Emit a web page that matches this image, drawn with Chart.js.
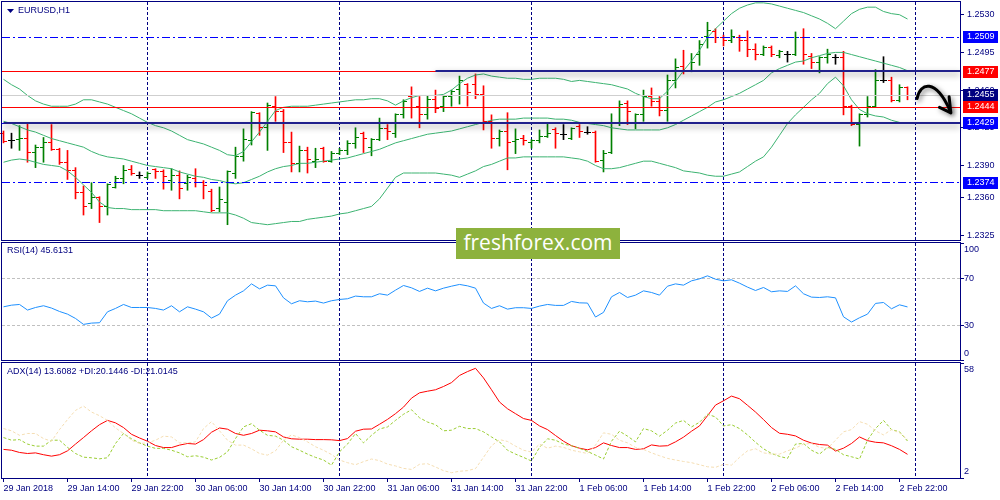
<!DOCTYPE html>
<html>
<head>
<meta charset="utf-8">
<script src="https://cdn.jsdelivr.net/npm/chart.js@4.4.1/dist/chart.umd.min.js"></script>
<style>
  html, body { margin: 0; padding: 0; background: #fff; }
  #wrap { position: relative; width: 1000px; height: 500px; overflow: hidden; }
  #wrap canvas { position: absolute; left: 0; }
  #logo { position: absolute; left: 456px; top: 228px; width: 164px; height: 31px; background: #8db23d;
          color: #fff; font: 21px "Open Sans", sans-serif; line-height: 29px; text-align: center; }
</style>
</head>
<body>
<div id="wrap">
  <canvas id="main" width="1000" height="242" style="top:0"></canvas>
  <canvas id="rsi" width="1000" height="121" style="top:241px"></canvas>
  <canvas id="adx" width="1000" height="139" style="top:361px"></canvas>
  <div id="logo">freshforex.com</div>
</div>
<script>
// EURUSD H1, 29 Jan 06:00 .. 2 Feb 23:00 (bar index 0..113)
var opens = [1.2420,1.2413,1.2414,1.2415,1.2402,1.2407,1.2411,1.2405,1.2393,1.2385,
  1.2365,1.2355,1.2360,1.2352,1.2370,1.2378,1.2386,1.2381,1.2379,1.2386,
  1.2384,1.2376,1.2381,1.2373,1.2378,1.2374,1.2366,1.2350,1.2356,1.2383,
  1.2398,1.2413,1.2438,1.2425,1.2445,1.2440,1.2411,1.2392,1.2404,1.2394,
  1.2406,1.2394,1.2401,1.2404,1.2410,1.2420,1.2407,1.2414,1.2424,1.2420,
  1.2437,1.2454,1.2445,1.2437,1.2451,1.2445,1.2454,1.2461,1.2465,1.2465,
  1.2456,1.2431,1.2415,1.2422,1.2412,1.2415,1.2411,1.2413,1.2417,1.2423,
  1.2419,1.2415,1.2426,1.2421,1.2421,1.2395,1.2402,1.2429,1.2448,1.2429,
  1.2437,1.2454,1.2449,1.2441,1.2469,1.2482,1.2478,1.2493,1.2510,1.2514,
  1.2509,1.2506,1.2509,1.2506,1.2498,1.2493,1.2500,1.2492,1.2493,1.2493,
  1.2509,1.2491,1.2486,1.2490,1.2490,1.2490,1.2445,1.2428,1.2437,1.2445,
  1.2469,1.2469,1.2450,1.2462];
var highs = [1.2422,1.2420,1.2427,1.2429,1.2409,1.2416,1.2428,1.2406,1.2404,1.2388,
  1.2371,1.2374,1.2361,1.2373,1.2380,1.2390,1.2390,1.2384,1.2384,1.2387,
  1.2386,1.2387,1.2385,1.2381,1.2387,1.2376,1.2368,1.2370,1.2385,1.2407,
  1.2424,1.2440,1.2439,1.2448,1.2454,1.2442,1.2421,1.2408,1.2407,1.2406,
  1.2407,1.2403,1.2406,1.2413,1.2425,1.2421,1.2415,1.2434,1.2428,1.2438,
  1.2451,1.2463,1.2454,1.2455,1.2460,1.2455,1.2460,1.2473,1.2466,1.2475,
  1.2464,1.2437,1.2423,1.2439,1.2424,1.2418,1.2414,1.2423,1.2429,1.2425,
  1.2428,1.2425,1.2428,1.2426,1.2422,1.2404,1.2438,1.2450,1.2450,1.2438,
  1.2460,1.2462,1.2454,1.2474,1.2489,1.2497,1.2494,1.2506,1.2523,1.2517,
  1.2511,1.2516,1.2511,1.2515,1.2503,1.2501,1.2501,1.2497,1.2496,1.2514,
  1.2517,1.2494,1.2491,1.2498,1.2493,1.2496,1.2446,1.2438,1.2454,1.2479,
  1.2491,1.2472,1.2465,1.2463];
var lows = [1.2411,1.2406,1.2404,1.2393,1.2388,1.2393,1.2404,1.2391,1.2377,1.2359,
  1.2344,1.2350,1.2337,1.2344,1.2369,1.2373,1.2381,1.2378,1.2378,1.2378,
  1.2368,1.2367,1.2359,1.2367,1.2370,1.2359,1.2347,1.2347,1.2335,1.2378,
  1.2394,1.2409,1.2418,1.2404,1.2431,1.2402,1.2384,1.2384,1.2383,1.2388,
  1.2393,1.2393,1.2400,1.2400,1.2406,1.2402,1.2399,1.2413,1.2414,1.2416,
  1.2434,1.2434,1.2425,1.2433,1.2439,1.2440,1.2445,1.2447,1.2445,1.2452,
  1.2423,1.2406,1.2408,1.2386,1.2401,1.2409,1.2406,1.2411,1.2416,1.2406,
  1.2414,1.2414,1.2416,1.2419,1.2393,1.2384,1.2401,1.2427,1.2428,1.2424,
  1.2431,1.2445,1.2436,1.2431,1.2462,1.2475,1.2477,1.2483,1.2499,1.2504,
  1.2501,1.2504,1.2496,1.2491,1.2488,1.2492,1.2491,1.2490,1.2486,1.2492,
  1.2484,1.2480,1.2476,1.2485,1.2484,1.2437,1.2427,1.2408,1.2435,1.2444,
  1.2467,1.2449,1.2449,1.2451];
var closes = [1.2412,1.2413,1.2415,1.2402,1.2407,1.2411,1.2405,1.2393,1.2385,1.2365,
  1.2352,1.2360,1.2352,1.2372,1.2378,1.2385,1.2383,1.2381,1.2383,1.2384,
  1.2380,1.2381,1.2369,1.2379,1.2374,1.2371,1.2348,1.2358,1.2384,1.2398,
  1.2414,1.2439,1.2425,1.2446,1.2440,1.2411,1.2392,1.2404,1.2396,1.2396,
  1.2394,1.2401,1.2404,1.2410,1.2416,1.2415,1.2414,1.2424,1.2422,1.2437,
  1.2449,1.2444,1.2437,1.2451,1.2443,1.2454,1.2459,1.2469,1.2458,1.2456,
  1.2431,1.2415,1.2422,1.2411,1.2414,1.2413,1.2413,1.2417,1.2420,1.2420,
  1.2419,1.2424,1.2422,1.2421,1.2394,1.2401,1.2429,1.2447,1.2440,1.2437,
  1.2454,1.2449,1.2441,1.2469,1.2481,1.2477,1.2486,1.2502,1.2515,1.2509,
  1.2506,1.2510,1.2506,1.2498,1.2493,1.2500,1.2493,1.2496,1.2493,1.2509,
  1.2493,1.2486,1.2490,1.2493,1.2490,1.2445,1.2428,1.2437,1.2445,1.2469,
  1.2469,1.2450,1.2462,1.2455];

// Bollinger Bands (20)
var bbUpper = [1.2470,1.2465,1.2461,1.2455,1.2450,1.2447,1.2445,1.2445,1.2445,1.2447,
  1.2451,1.2451,1.2449,1.2447,1.2444,1.2441,1.2438,1.2434,1.2430,1.2427,
  1.2425,1.2422,1.2418,1.2414,1.2412,1.2410,1.2407,1.2404,1.2400,1.2399,
  1.2403,1.2412,1.2421,1.2431,1.2441,1.2444,1.2445,1.2445,1.2445,1.2446,
  1.2447,1.2448,1.2449,1.2450,1.2451,1.2451,1.2452,1.2452,1.2450,1.2446,
  1.2450,1.2453,1.2455,1.2455,1.2455,1.2456,1.2460,1.2466,1.2471,1.2474,
  1.2475,1.2473,1.2472,1.2471,1.2471,1.2470,1.2470,1.2471,1.2471,1.2471,
  1.2470,1.2468,1.2469,1.2468,1.2467,1.2466,1.2465,1.2463,1.2461,1.2457,
  1.2454,1.2452,1.2452,1.2459,1.2468,1.2478,1.2487,1.2497,1.2509,1.2517,
  1.2524,1.2531,1.2536,1.2539,1.2541,1.2541,1.2540,1.2538,1.2536,1.2534,
  1.2532,1.2529,1.2526,1.2522,1.2517,1.2524,1.2531,1.2535,1.2537,1.2537,
  1.2533,1.2531,1.2530,1.2526];
var bbMiddle = [1.2431,1.2429,1.2426,1.2423,1.2421,1.2418,1.2415,1.2413,1.2411,1.2409,
  1.2407,1.2403,1.2400,1.2398,1.2397,1.2396,1.2394,1.2392,1.2390,1.2389,
  1.2388,1.2387,1.2384,1.2382,1.2380,1.2379,1.2377,1.2376,1.2374,1.2373,
  1.2374,1.2377,1.2380,1.2384,1.2387,1.2389,1.2390,1.2392,1.2392,1.2393,
  1.2394,1.2395,1.2396,1.2397,1.2399,1.2401,1.2403,1.2405,1.2408,1.2411,
  1.2413,1.2415,1.2417,1.2419,1.2420,1.2421,1.2422,1.2424,1.2426,1.2428,
  1.2430,1.2432,1.2433,1.2433,1.2433,1.2434,1.2434,1.2434,1.2434,1.2433,
  1.2433,1.2432,1.2430,1.2429,1.2428,1.2427,1.2425,1.2424,1.2423,1.2423,
  1.2423,1.2423,1.2423,1.2425,1.2428,1.2432,1.2436,1.2440,1.2444,1.2449,
  1.2451,1.2454,1.2457,1.2461,1.2465,1.2469,1.2476,1.2480,1.2483,1.2486,
  1.2487,1.2490,1.2492,1.2494,1.2495,1.2495,1.2493,1.2491,1.2489,1.2487,
  1.2485,1.2483,1.2481,1.2478];
var bbLower = [1.2393,1.2395,1.2396,1.2395,1.2393,1.2391,1.2390,1.2389,1.2385,1.2379,
  1.2372,1.2365,1.2356,1.2351,1.2350,1.2350,1.2349,1.2349,1.2349,1.2349,
  1.2348,1.2348,1.2348,1.2348,1.2348,1.2347,1.2346,1.2346,1.2346,1.2344,
  1.2341,1.2337,1.2336,1.2335,1.2336,1.2337,1.2338,1.2338,1.2340,1.2341,
  1.2342,1.2343,1.2345,1.2346,1.2348,1.2350,1.2352,1.2359,1.2369,1.2379,
  1.2383,1.2383,1.2383,1.2383,1.2383,1.2382,1.2381,1.2379,1.2382,1.2385,
  1.2389,1.2391,1.2394,1.2397,1.2397,1.2398,1.2398,1.2398,1.2398,1.2398,
  1.2398,1.2397,1.2396,1.2394,1.2390,1.2387,1.2387,1.2388,1.2390,1.2392,
  1.2394,1.2394,1.2392,1.2390,1.2388,1.2385,1.2384,1.2383,1.2381,1.2380,
  1.2380,1.2382,1.2384,1.2389,1.2394,1.2398,1.2407,1.2418,1.2429,1.2437,
  1.2444,1.2451,1.2457,1.2466,1.2472,1.2464,1.2451,1.2442,1.2438,1.2436,
  1.2435,1.2432,1.2430,1.2429];

// RSI(14)
var rsi = [45.7,47.1,47.7,42.9,45.1,46.6,44.6,41.7,39.4,35.7,
  30.6,31.7,32.0,41.4,44.3,47.7,45.1,45.1,45.1,44.3,
  42.9,46.6,41.4,45.7,43.7,41.4,36.0,39.4,50.9,55.7,
  59.4,65.4,61.1,64.3,63.7,53.4,48.3,50.9,50.0,50.6,
  48.9,50.9,52.0,52.6,54.9,54.3,54.3,56.9,55.7,60.0,
  64.0,62.0,58.9,61.7,59.4,61.7,63.4,64.9,63.7,61.7,
  48.9,44.3,46.6,43.7,44.9,44.9,44.3,46.3,47.7,46.9,
  46.9,50.3,49.1,48.9,36.9,40.9,54.3,58.0,53.7,55.7,
  59.4,58.0,55.7,63.4,65.4,64.3,68.0,69.7,72.3,69.4,
  68.0,68.9,66.0,62.6,59.7,62.3,58.6,59.4,58.9,63.7,
  56.9,54.0,53.7,54.3,53.4,37.1,32.6,36.3,39.4,48.6,
  49.4,44.0,47.4,45.6];

// ADX(14) with +DI / -DI
var adx = [16.0,15.6,14.5,14.0,14.3,13.4,12.7,13.4,15.3,18.6,
  21.8,25.1,28.1,30.2,29.0,26.7,23.4,21.6,20.0,17.9,
  16.9,16.9,18.1,18.9,18.6,20.8,24.4,26.5,25.9,23.8,
  22.9,23.8,25.4,25.1,24.6,22.1,21.2,21.0,21.0,20.8,
  20.8,20.7,20.3,21.3,24.9,25.9,26.0,28.3,30.7,33.5,
  36.7,41.1,43.7,44.5,45.2,46.8,48.7,52.2,54.1,55.7,
  51.0,45.2,39.2,35.9,33.5,31.1,30.2,27.5,25.7,22.8,
  20.0,17.8,16.6,15.8,16.9,19.2,17.9,16.9,16.9,16.0,
  16.3,18.2,17.6,17.8,19.7,22.0,24.9,27.5,32.5,37.7,
  39.8,42.1,40.8,37.6,34.3,30.6,26.7,23.9,23.4,22.6,
  20.5,19.1,18.4,18.1,15.2,16.6,18.9,22.1,20.3,19.5,
  19.2,17.8,16.0,13.6];
var plusDI = [21.8,20.5,20.8,18.6,17.6,17.6,20.5,20.5,17.0,14.0,
  12.2,11.9,11.4,11.9,18.9,23.8,21.2,19.2,17.6,16.5,
  16.5,15.6,14.3,12.4,12.9,12.2,10.8,12.1,14.8,21.3,
  27.0,28.6,25.4,22.9,22.5,20.5,17.3,15.6,13.7,12.1,
  10.8,8.3,14.8,18.6,23.8,19.2,22.9,26.0,27.0,30.2,
  33.2,35.4,31.5,29.4,28.1,25.1,25.4,27.3,26.2,26.2,
  24.6,22.1,19.7,15.6,13.7,12.1,10.3,17.0,21.2,20.5,
  18.6,17.8,16.5,15.0,13.2,11.3,20.0,24.9,22.5,19.7,
  26.2,25.1,22.5,25.4,28.9,30.2,27.0,29.3,33.2,31.9,
  27.5,28.1,26.2,23.1,19.5,16.3,14.0,12.6,11.6,18.6,
  18.9,15.6,13.7,17.0,16.0,13.4,12.4,11.3,20.5,26.2,
  30.2,25.7,24.6,20.1];
var minusDI = [26.2,25.1,22.9,23.8,23.8,21.3,20.0,25.7,30.6,35.1,
  37.2,34.3,32.5,30.2,26.5,23.8,20.5,18.9,19.2,20.5,
  22.5,22.1,19.2,19.2,19.7,26.2,29.6,25.1,20.5,18.1,
  18.1,16.3,14.0,13.2,15.3,20.5,23.1,21.8,19.7,17.3,
  15.6,13.5,10.8,9.5,8.5,10.0,11.3,10.5,8.8,7.9,
  6.7,6.2,8.7,9.0,7.4,5.6,4.6,5.3,5.6,6.6,
  12.1,17.8,20.8,19.9,17.6,15.6,14.7,18.6,16.6,17.6,
  17.0,15.6,14.8,14.0,18.1,24.1,23.4,20.5,19.2,17.0,
  16.0,14.3,12.9,11.6,10.8,10.1,9.5,8.5,7.5,7.2,
  8.7,8.3,12.1,15.3,16.3,14.3,13.7,13.7,15.3,16.6,
  18.6,18.9,17.0,16.5,20.5,24.6,25.7,29.6,28.3,25.1,
  23.1,25.7,24.1,21.0];

// axis text and levels
var priceTicks = [1.2530, 1.2495, 1.2460, 1.2425, 1.2390, 1.2360, 1.2325];
var timeLabels = ['29 Jan 2018', '29 Jan 14:00', '29 Jan 22:00', '30 Jan 06:00', '30 Jan 14:00',
  '30 Jan 22:00', '31 Jan 06:00', '31 Jan 14:00', '31 Jan 22:00', '1 Feb 06:00', '1 Feb 14:00',
  '1 Feb 22:00', '2 Feb 06:00', '2 Feb 14:00', '2 Feb 22:00'];
var dayBreakBars = [18, 42, 66, 90, 114];
var levelPrices = [1.2509, 1.2477, 1.2455, 1.2444, 1.2429, 1.2374];
var rsiLevels = [70, 30];
var rsiAxisLabels = [100, 70, 30, 0];
var adxAxisLabels = [58, 2];
var symbolTitle = 'EURUSD,H1';
var rsiTitle = 'RSI(14) 45.6131';
var adxTitle = 'ADX(14) 13.6082 +DI:20.1446 -DI:21.0145';

var NAVY = '#000080';
var FONT = '"Liberation Sans", Arial, sans-serif';
var X_MIN = -0.1875, X_MAX = 119.5625;
Chart.defaults.font.family = FONT;
Chart.defaults.font.size = 9;

var barColor = closes.map(function (c, i) {
  return c > opens[i] ? '#008000' : (c < opens[i] ? '#ff0000' : '#000000');
});
function pts(arr) { return arr.map(function (v, i) { return {x: i, y: v}; }); }

// look of each level line, same order as levelPrices
var levelLook = [
  {color: '#0000ff', dash: [8, 3, 2, 3], box: '#0000ff'},
  {color: '#ff0000', box: '#ff0000', trendFrom: 54},
  {color: '#cfcfcf', box: '#000080'},
  {color: '#ff0000', box: '#ff0000'},
  {color: '#0000ff', dash: [8, 3, 2, 3], box: '#0000ff', trendFrom: 0},
  {color: '#0000ff', dash: [8, 3, 2, 3], box: '#0000ff'}
];

function drawDayLines(chart) {
  var ctx = chart.ctx, ca = chart.chartArea, x = chart.scales.x;
  ctx.save();
  ctx.strokeStyle = NAVY; ctx.lineWidth = 1; ctx.setLineDash([3, 2]);
  dayBreakBars.forEach(function (b) {
    var px = Math.floor(x.getPixelForValue(b)) + 0.5;
    ctx.beginPath(); ctx.moveTo(px, ca.top); ctx.lineTo(px, ca.bottom); ctx.stroke();
  });
  ctx.restore();
}
function drawFrame(chart) {
  var ctx = chart.ctx, ca = chart.chartArea;
  ctx.save();
  ctx.strokeStyle = NAVY; ctx.lineWidth = 1; ctx.setLineDash([]);
  ctx.strokeRect(ca.left - 0.5, ca.top - 0.5, ca.right - ca.left + 1, ca.bottom - ca.top + 1);
  ctx.restore();
}
function drawTitle(chart, text, dx, dy) {
  var ctx = chart.ctx, ca = chart.chartArea;
  ctx.save();
  ctx.font = '9px ' + FONT; ctx.fillStyle = NAVY; ctx.textBaseline = 'middle';
  ctx.fillText(text, ca.left + dx, ca.top + dy);
  ctx.restore();
}
function drawAxisText(chart, values) {
  var ctx = chart.ctx, ca = chart.chartArea, y = chart.scales.y;
  ctx.save();
  ctx.font = '9px ' + FONT; ctx.fillStyle = NAVY; ctx.textBaseline = 'middle';
  values.forEach(function (v) {
    var yy = Math.min(Math.max(y.getPixelForValue(v), ca.top + 7), ca.bottom - 6);
    ctx.fillText(String(v), ca.right + 4, yy);
  });
  ctx.restore();
}

var mainDecor = {
  id: 'mainDecor',
  beforeDatasetsDraw: function (chart) { drawDayLines(chart); },
  afterDatasetsDraw: function (chart) {
    var ctx = chart.ctx, ca = chart.chartArea, x = chart.scales.x, y = chart.scales.y;
    ctx.save();
    // open / close ticks of each bar
    for (var i = 0; i < closes.length; i++) {
      var px = Math.floor(x.getPixelForValue(i));
      ctx.fillStyle = barColor[i];
      ctx.fillRect(px - 3, Math.round(y.getPixelForValue(opens[i]) - 0.5), 3, 1);
      ctx.fillRect(px + 1, Math.round(y.getPixelForValue(closes[i]) - 0.5), 3, 1);
    }
    // horizontal levels
    levelPrices.forEach(function (p, k) {
      var look = levelLook[k];
      var yy = Math.floor(y.getPixelForValue(p)) + 0.5;
      ctx.save();
      ctx.strokeStyle = look.color; ctx.lineWidth = 1; ctx.setLineDash(look.dash || []);
      ctx.beginPath(); ctx.moveTo(ca.left, yy); ctx.lineTo(ca.right, yy); ctx.stroke();
      ctx.restore();
      if (look.trendFrom !== undefined) {
        var x0 = Math.max(ca.left, x.getPixelForValue(look.trendFrom));
        ctx.save();
        ctx.strokeStyle = '#20208c'; ctx.lineWidth = 2;
        ctx.shadowColor = 'rgba(0,0,0,0.45)'; ctx.shadowBlur = 6; ctx.shadowOffsetY = 3;
        ctx.beginPath(); ctx.moveTo(x0, yy - 0.5); ctx.lineTo(ca.right, yy - 0.5); ctx.stroke();
        ctx.restore();
      }
    });
    // hand-drawn arrow, placed in bar/price space
    function P(b, p) { return [x.getPixelForValue(b), y.getPixelForValue(p)]; }
    var a0 = P(114.2, 1.24522), c1 = P(114.6, 1.24672), c2 = P(116.5, 1.24710), a1 = P(118.3, 1.24412);
    var w1 = P(117.0, 1.24440), w2 = P(118.2, 1.24538), tip = P(118.42, 1.24388);
    ctx.strokeStyle = '#000'; ctx.lineWidth = 3; ctx.lineCap = 'round'; ctx.lineJoin = 'round';
    ctx.shadowColor = 'rgba(0,0,0,0.5)'; ctx.shadowBlur = 5; ctx.shadowOffsetX = 2; ctx.shadowOffsetY = 2;
    ctx.beginPath(); ctx.moveTo(a0[0], a0[1]);
    ctx.bezierCurveTo(c1[0], c1[1], c2[0], c2[1], a1[0], a1[1]); ctx.stroke();
    ctx.beginPath(); ctx.moveTo(w1[0], w1[1]); ctx.lineTo(tip[0], tip[1]); ctx.lineTo(w2[0], w2[1]); ctx.stroke();
    ctx.restore();
  },
  afterDraw: function (chart) {
    var ctx = chart.ctx, ca = chart.chartArea, y = chart.scales.y;
    drawFrame(chart);
    ctx.save();
    ctx.font = '9px ' + FONT; ctx.textBaseline = 'middle';
    // price tags on the right axis
    levelPrices.forEach(function (p, k) {
      var yc = Math.round(y.getPixelForValue(p));
      ctx.fillStyle = levelLook[k].box;
      ctx.fillRect(ca.right + 3, yc - 6, 35, 12);
      ctx.fillStyle = '#ffffff';
      ctx.fillText(p.toFixed(4), ca.right + 7, yc);
    });
    // little menu triangle before the symbol name
    ctx.fillStyle = NAVY;
    ctx.beginPath(); ctx.moveTo(ca.left + 5, ca.top + 7); ctx.lineTo(ca.left + 12, ca.top + 7);
    ctx.lineTo(ca.left + 8.5, ca.top + 11); ctx.closePath(); ctx.fill();
    ctx.restore();
    drawTitle(chart, symbolTitle, 16, 9);
  }
};

var rsiDecor = {
  id: 'rsiDecor',
  beforeDatasetsDraw: function (chart) {
    drawDayLines(chart);
    var ctx = chart.ctx, ca = chart.chartArea, y = chart.scales.y;
    ctx.save();
    ctx.strokeStyle = '#c0c0c0'; ctx.lineWidth = 1; ctx.setLineDash([3, 2]);
    rsiLevels.forEach(function (v) {
      var yy = Math.floor(y.getPixelForValue(v)) + 0.5;
      ctx.beginPath(); ctx.moveTo(ca.left, yy); ctx.lineTo(ca.right, yy); ctx.stroke();
    });
    ctx.restore();
  },
  afterDraw: function (chart) {
    drawFrame(chart);
    drawAxisText(chart, rsiAxisLabels);
    drawTitle(chart, rsiTitle, 5, 8);
  }
};
var adxDecor = {
  id: 'adxDecor',
  beforeDatasetsDraw: function (chart) { drawDayLines(chart); },
  afterDraw: function (chart) {
    drawFrame(chart);
    drawAxisText(chart, adxAxisLabels);
    drawTitle(chart, adxTitle, 5, 9);
  }
};

// keeps tick labels from shrinking the plot area
function noEdgePadding(s) { s.paddingTop = 0; s.paddingBottom = 0; s.paddingLeft = 0; s.paddingRight = 0; }

function rightAxis(min, max, tickValues, showLabels) {
  return {
    position: 'right', min: min, max: max,
    afterFit: function (s) { s.width = 40; noEdgePadding(s); },
    afterBuildTicks: function (s) { s.ticks = tickValues.map(function (v) { return {value: v}; }); },
    ticks: {display: showLabels, autoSkip: false, color: NAVY, padding: 3,
            callback: function (v) { return v.toFixed(4); }},
    grid: {drawOnChartArea: false, drawTicks: true, tickLength: 4, color: NAVY},
    border: {color: NAVY}
  };
}
var hiddenX = {type: 'linear', min: X_MIN, max: X_MAX, display: false, offset: false};
var common = {
  responsive: false, animation: false, devicePixelRatio: 1, events: [],
  plugins: {legend: {display: false}, tooltip: {enabled: false}}
};
function lineSet(arr, color, dash) {
  return {type: 'line', data: pts(arr), borderColor: color, borderWidth: 1, borderDash: dash || [],
          pointRadius: 0, tension: 0, fill: false, order: 1};
}

new Chart(document.getElementById('main'), {
  type: 'line',
  data: {datasets: [
    lineSet(bbUpper, '#3cb371'),
    lineSet(bbMiddle, '#3cb371'),
    lineSet(bbLower, '#3cb371'),
    {type: 'bar', data: lows.map(function (l, i) { return {x: i, y: [l, highs[i]]}; }),
     backgroundColor: barColor, barThickness: 1, borderWidth: 0, order: 2}
  ]},
  options: Object.assign({}, common, {
    layout: {padding: {left: 2, top: 2, right: 0, bottom: 2}},
    scales: {x: hiddenX, y: rightAxis(1.23208, 1.25418, priceTicks, true)}
  }),
  plugins: [mainDecor]
});

new Chart(document.getElementById('rsi'), {
  type: 'line',
  data: {datasets: [lineSet(rsi, '#1e90ff')]},
  options: Object.assign({}, common, {
    layout: {padding: {left: 2, top: 2, right: 0, bottom: 2}},
    scales: {x: hiddenX, y: rightAxis(0, 100.5, rsiAxisLabels, false)}
  }),
  plugins: [rsiDecor]
});

new Chart(document.getElementById('adx'), {
  type: 'line',
  data: {datasets: [
    lineSet(minusDI, '#f5deb3', [3, 2]),
    lineSet(plusDI, '#9acd32', [3, 2]),
    lineSet(adx, '#ff0000')
  ]},
  options: Object.assign({}, common, {
    layout: {padding: {left: 2, top: 2, right: 0, bottom: 0}},
    scales: {
      x: {type: 'linear', min: X_MIN, max: X_MAX, offset: false,
          afterBuildTicks: function (s) { s.ticks = timeLabels.map(function (t, k) { return {value: k * 8}; }); },
          afterFit: function (s) { s.height = 22; noEdgePadding(s); },
          ticks: {autoSkip: false, maxRotation: 0, minRotation: 0, align: 'start', color: NAVY, padding: 1,
                  callback: function (v, k) { return timeLabels[k]; }},
          grid: {drawOnChartArea: false, drawTicks: true, tickLength: 4, color: NAVY, offset: false},
          border: {color: NAVY}},
      y: rightAxis(2, 58.3, adxAxisLabels, false)
    }
  }),
  plugins: [adxDecor]
});
</script>
</body>
</html>
